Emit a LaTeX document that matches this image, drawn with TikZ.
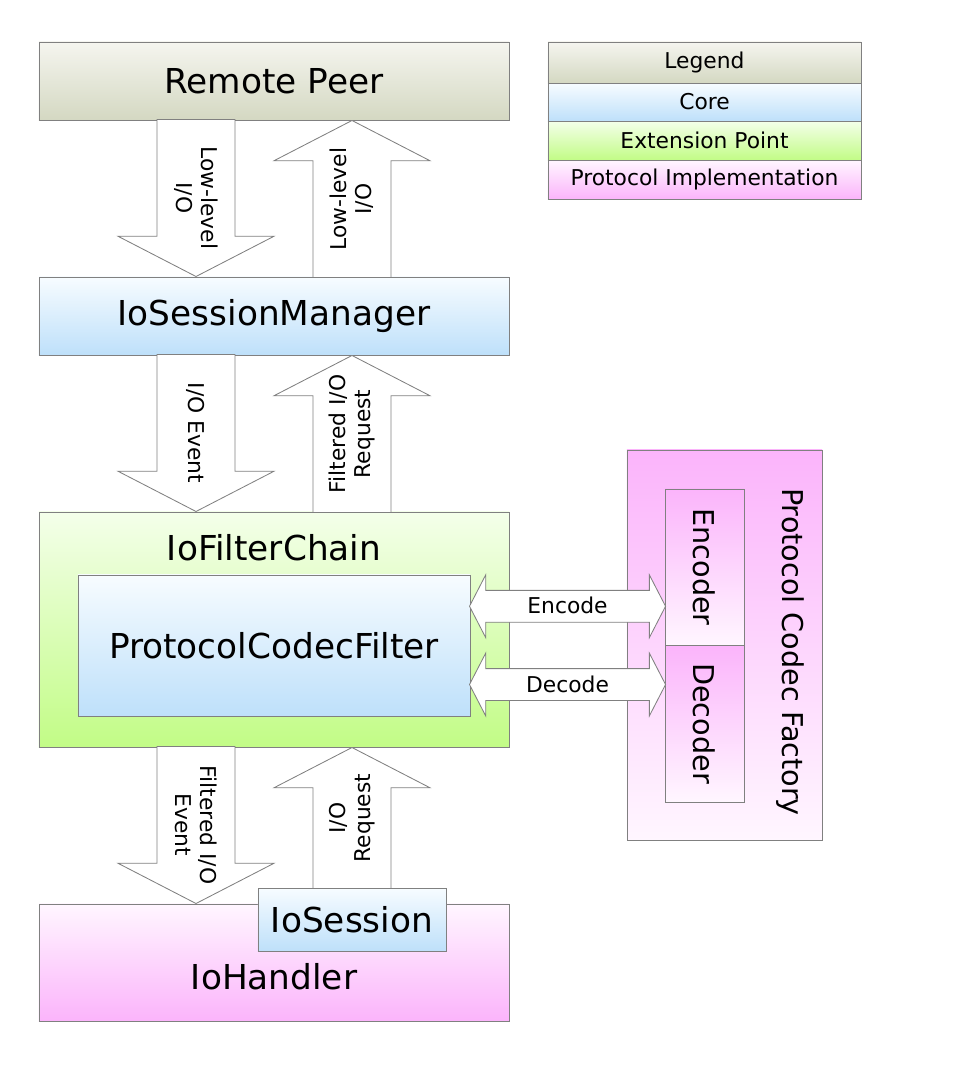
\documentclass[tikz,border=0pt]{standalone}
\usepackage{fontspec}
\setmainfont{DejaVu Sans}
\usetikzlibrary{shapes.arrows,positioning,calc}

\definecolor{linegray}{HTML}{808080}
\definecolor{peertop}{HTML}{F5F5EF}
\definecolor{peerbot}{HTML}{D4D8C2}
\definecolor{coretop}{HTML}{F7FCFF}
\definecolor{corebot}{HTML}{BEE0FA}
\definecolor{exttop}{HTML}{F4FFEA}
\definecolor{extbot}{HTML}{C2FC86}
\definecolor{prototop}{HTML}{FFF6FF}
\definecolor{protobot}{HTML}{FBB4FB}

\tikzset{
  box/.style={draw=linegray, line width=0.6pt, rectangle, inner sep=0pt, outer sep=0pt},
  peerbox/.style={box, top color=peertop, bottom color=peerbot},
  corebox/.style={box, top color=coretop, bottom color=corebot},
  extbox/.style={box, top color=exttop, bottom color=extbot},
  protobox/.style={box, top color=prototop, bottom color=protobot},
  factorybox/.style={box, top color=protobot, bottom color=prototop},
  bigtext/.style={font=\fontsize{24.4}{29}\selectfont},
  midtext/.style={font=\fontsize{20.4}{24}\selectfont},
  smalltext/.style={font=\fontsize{15.5}{17.5}\selectfont},
  flow/.style={single arrow, draw=linegray, line width=0.6pt, fill=white,
    inner xsep=0pt, inner ysep=0.9625cm, minimum width=0pt,
    single arrow head extend=0.975cm, single arrow tip angle=125.4,
    minimum height=3.925cm},
  codec/.style={double arrow, draw=linegray, line width=0.6pt, fill=white, smalltext,
    inner xsep=0pt, inner ysep=0pt, text height=0.58cm, text depth=0.195cm,
    double arrow head extend=0.3875cm, double arrow tip angle=125.4,
    minimum height=4.9cm},
  flowlabel/.style={smalltext, align=center, inner sep=0pt},
}

\begin{document}
\begin{tikzpicture}[x=0.025cm, y=-0.025cm]
\useasboundingbox (0,0) rectangle (972,1070);

% main stack
\node[peerbox, bigtext, minimum width=11.75cm, minimum height=1.95cm] (peer) at (274,81) {Remote Peer};
\node[corebox, bigtext, minimum width=11.75cm, minimum height=1.95cm] (manager) at (274,316) {IoSessionManager};
\node[extbox, minimum width=11.75cm, minimum height=5.875cm] (chain) at (274,629.5) {};
\node[bigtext] (chainlabel) at (274,548) {IoFilterChain};
\node[corebox, bigtext, minimum width=9.8cm, minimum height=3.525cm] (codecfilter) at (274,645.5) {ProtocolCodecFilter};
\node[protobox, minimum width=11.75cm, minimum height=2.925cm] (handler) at (274,962.5) {};
\node[bigtext] (handlerlabel) at (274,977) {IoHandler};
\node[corebox, bigtext, minimum width=4.7cm, minimum height=1.575cm] (session) at (352,919.5) {IoSession};

% codec factory
\node[factorybox, minimum width=4.875cm, minimum height=9.75cm] (factory) at (724.5,645) {};
\node[midtext, rotate=-90] (factorylabel) at (790,652) {Protocol Codec Factory};
\node[factorybox, midtext, minimum width=1.975cm, minimum height=3.9cm] (encoder) at (704.5,567) {\rotatebox{-90}{Encoder}};
\node[factorybox, midtext, minimum width=1.975cm, minimum height=3.925cm, below=0pt of encoder] (decoder) {\rotatebox{-90}{Decoder}};

% legend
\node[peerbox, smalltext, minimum width=7.825cm, minimum height=1.025cm] (legend) at (704.5,62.5) {Legend};
\node[corebox, smalltext, minimum width=7.825cm, minimum height=0.95cm, below=0pt of legend] (legendcore) {Core};
\node[extbox, smalltext, minimum width=7.825cm, minimum height=0.975cm, below=0pt of legendcore] (legendext) {Extension Point};
\node[protobox, smalltext, minimum width=7.825cm, minimum height=0.975cm, below=0pt of legendext] (legendproto) {Protocol Implementation};

% block arrows
\node[flow, rotate=-90, anchor=tip] (lowdown) at ($(manager.north)+(-78,0)$) {};
\node[flow, rotate=90, anchor=tip] (lowup) at ($(peer.south)+(78,0)$) {};
\node[flow, rotate=-90, anchor=tip] (eventdown) at ($(chain.north)+(-78,0)$) {};
\node[flow, rotate=90, anchor=tip] (requestup) at ($(manager.south)+(78,0)$) {};
\node[flow, rotate=-90, anchor=tip] (filtereddown) at ($(handler.north)+(-78,0)$) {};
\node[flow, rotate=90, anchor=tip, minimum height=3.525cm] (sessionup) at ($(chain.south)+(78,0)$) {};

\node[flowlabel, rotate=-90] (lowdowntext) at ($(lowdown.tip)!0.5!(lowdown.tail)$) {Low-level\\I/O};
\node[flowlabel, rotate=90] (lowuptext) at ($(lowup.tip)!0.5!(lowup.tail)$) {Low-level\\I/O};
\node[flowlabel, rotate=-90] (eventdowntext) at ($(eventdown.tip)!0.5!(eventdown.tail)$) {I/O Event};
\node[flowlabel, rotate=90] (requestuptext) at ($(requestup.tip)!0.5!(requestup.tail)$) {Filtered I/O\\Request};
\node[flowlabel, rotate=-90] (filtereddowntext) at ($(filtereddown.tip)!0.5!(filtereddown.tail)$) {Filtered I/O\\Event};
\node[flowlabel, rotate=90] (sessionuptext) at ($(sessionup.tip)!0.5!(sessionup.tail)$) {I/O\\Request};

% codec arrows
\node[codec] (encode) at ($(codecfilter.east)!0.5!(encoder.west)$) {Encode};
\node[codec] (decode) at ($(codecfilter.east)!0.5!(decoder.west)$) {Decode};
\end{tikzpicture}
\end{document}
